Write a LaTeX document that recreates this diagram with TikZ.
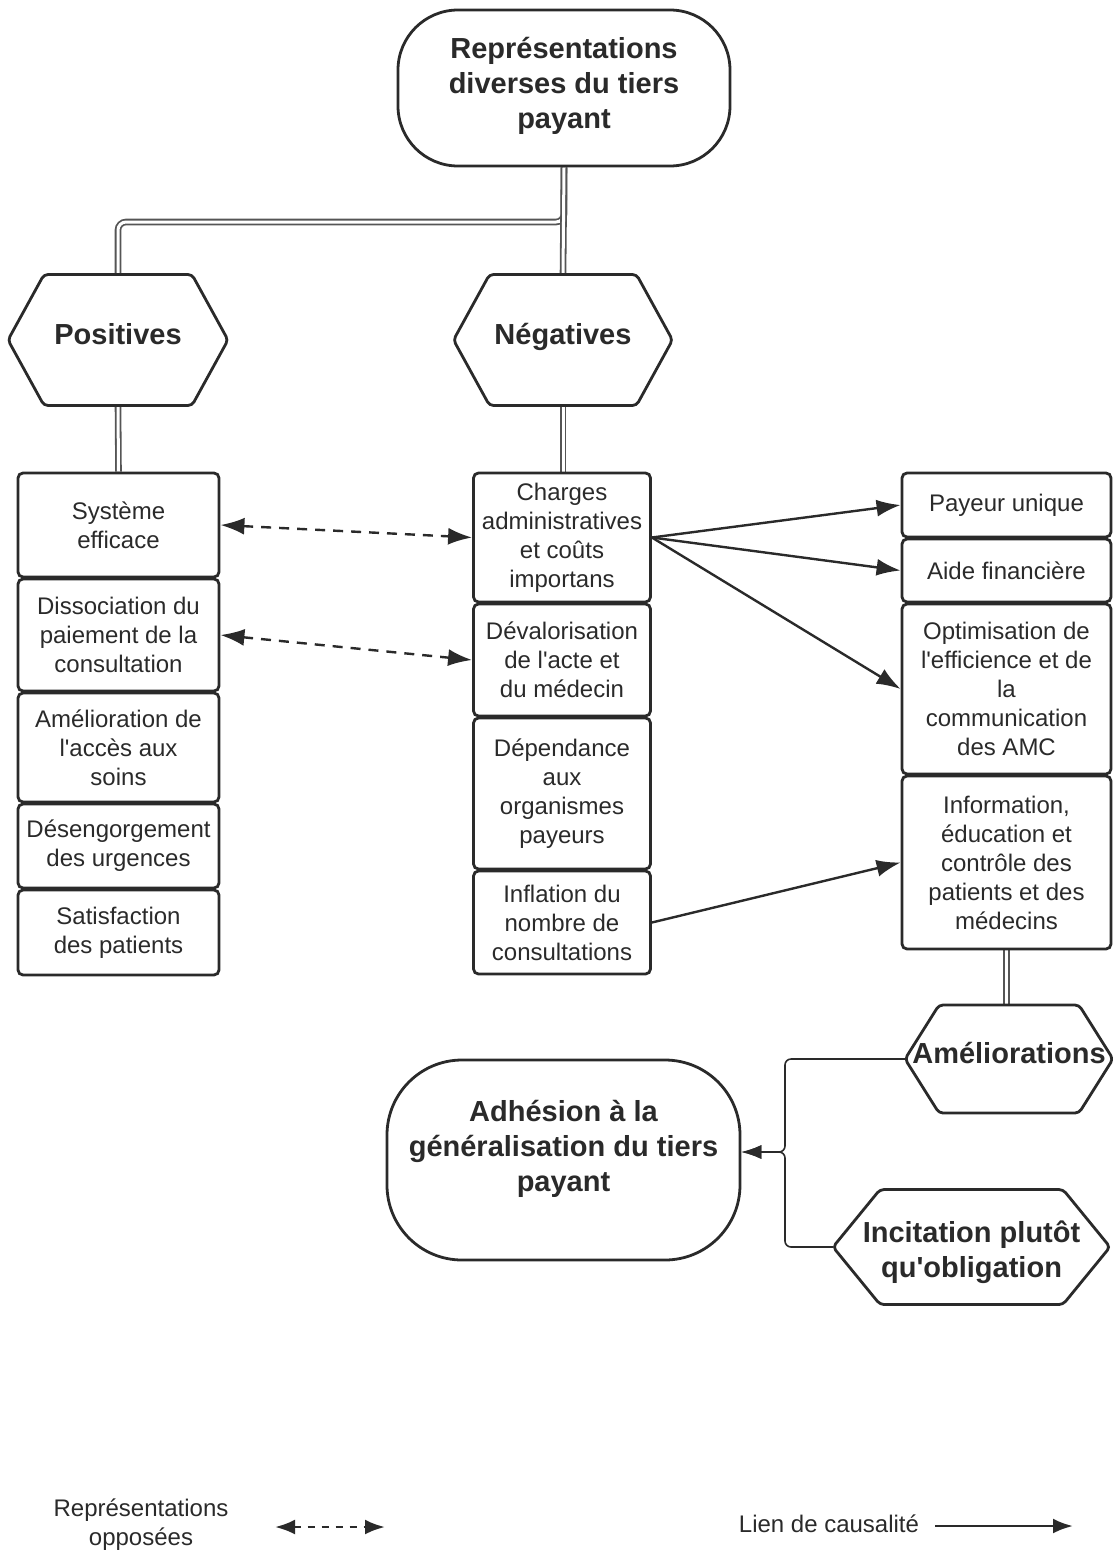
\documentclass[tikz,border=0pt]{standalone}
\usepackage{fontspec}
\setmainfont{Liberation Sans}[Ligatures=TeXOff]
\usetikzlibrary{arrows.meta}
\pgfdeclarelayer{bg}
\pgfsetlayers{bg,main}
\definecolor{encre}{HTML}{2A2A2A}
\tikzset{
    every node/.style={inner sep=2pt, text=encre},
    boite/.style={draw=encre, line width=2.8pt, rounded corners=5pt, align=center, font=\fontsize{24}{29}\selectfont},
    bulle/.style={draw=encre, line width=2.8pt, align=center, font=\fontsize{29}{35}\selectfont\bfseries},
    hexa/.style={draw=none, outer sep=0pt, align=center, font=\fontsize{29}{35}\selectfont\bfseries},
    contour/.style={draw=encre, line width=2.8pt, rounded corners=4pt},
    lien/.style={draw=encre!80, line width=1.8pt, double=white, double distance=3pt},
    causal/.style={draw=encre, line width=2.4pt, -{Latex[length=24pt, width=17pt]}},
    fleche/.style={draw=encre, line width=1.6pt, -{Latex[length=20pt, width=14pt]}},
    oppose/.style={draw=encre, line width=2.4pt, dash pattern=on 10pt off 8pt, {Latex[length=24pt, width=17pt]}-{Latex[length=24pt, width=17pt]}},
    legende/.style={align=center, font=\fontsize{24}{29}\selectfont}
}
\newcommand{\hexagone}[2]{%
    \draw[contour] (#1.west) -- ([xshift=#2pt]#1.north west) -- ([xshift=-#2pt]#1.north east)
        -- (#1.east) -- ([xshift=-#2pt]#1.south east) -- ([xshift=#2pt]#1.south west) -- cycle;}
\newcommand{\decale}[2]{\raisebox{#1}[\height][\depth]{\begin{tabular}{@{}c@{}}#2\end{tabular}}}

\begin{document}
\begin{tikzpicture}[x=1pt, y=-1pt]
    \useasboundingbox (0, 0) rectangle (1113, 1553);

    \node (haut) at (564, 88) [bulle, minimum width=332, minimum height=156, rounded corners=60pt] {\decale{2pt}{Représentations\\diverses du tiers\\payant}};

    \node (pos) at (118, 340) [hexa, minimum width=220, minimum height=131] {\decale{3pt}{Positives}};
    \node (neg) at (563, 340) [hexa, minimum width=219, minimum height=131] {\decale{3pt}{Négatives}};
    \hexagone{pos}{36}
    \hexagone{neg}{36}

    \node (sys) at (118.5, 525) [boite, minimum width=201, minimum height=104] {Système\\efficace};
    \node (dis) at (118.5, 635) [boite, minimum width=201, minimum height=112] {Dissociation du\\paiement de la\\consultation};
    \node (acc) at (118.5, 747.5) [boite, minimum width=201, minimum height=109] {Amélioration de\\l'accès aux\\soins};
    \node (urg) at (118.5, 846) [boite, minimum width=201, minimum height=84] {Désengorgement\\des urgences};
    \node (sat) at (118.5, 932.5) [boite, minimum width=201, minimum height=85] {Satisfaction\\des patients};

    \node (cha) at (562, 537.5) [boite, minimum width=177, minimum height=129] {Charges\\administratives\\et coûts\\importans};
    \node (dev) at (562, 660) [boite, minimum width=177, minimum height=112] {Dévalorisation\\de l'acte et\\du médecin};
    \node (dep) at (562, 793.5) [boite, minimum width=177, minimum height=151] {Dépendance\\aux\\organismes\\payeurs};
    \node (inf) at (562, 922.5) [boite, minimum width=177, minimum height=103] {Inflation du\\nombre de\\consultations};

    \node (pay) at (1006.5, 505) [boite, minimum width=209, minimum height=64] {Payeur unique};
    \node (aid) at (1006.5, 570.5) [boite, minimum width=209, minimum height=63] {Aide financière};
    \node (opt) at (1006.5, 689) [boite, minimum width=209, minimum height=170] {Optimisation de\\l'efficience et de\\la\\communication\\des AMC};
    \node (edu) at (1006.5, 862.5) [boite, minimum width=209, minimum height=173] {Information,\\éducation et\\contrôle des\\patients et des\\médecins};

    \node (ame) at (1009, 1059) [hexa, minimum width=208, minimum height=108] {\decale{3pt}{Améliorations}};
    \node (inc) at (971.5, 1247) [hexa, minimum width=277, minimum height=115] {\decale{-6pt}{Incitation plutôt\\qu'obligation}};
    \hexagone{ame}{34}
    \hexagone{inc}{47}

    \node (adh) at (563.5, 1160) [bulle, minimum width=353, minimum height=200, rounded corners=75pt] {\decale{11pt}{Adhésion à la\\généralisation du tiers\\payant}};

    \coordinate (fourche) at (564, 222);
    \coordinate (bus) at (785, 1152);

    \begin{pgfonlayer}{bg}
        \draw[lien, rounded corners=8pt] (haut.south) -- (fourche) -| (pos.north);
        \draw[lien] (haut.south) -- (neg.north);
        \draw[lien] (pos.south) -- (sys.north);
        \draw[lien] (neg.south) -- (neg.south |- cha.north);
        \draw[lien] (edu.south) -- (edu.south |- ame.north);

        \draw[oppose] (sys.east) -- (cha.west);
        \draw[oppose] (dis.east) -- (dev.west);

        \draw[causal] (cha.east) -- (pay.west);
        \draw[causal] (cha.east) -- (aid.west);
        \draw[causal] (cha.east) -- (opt.west);
        \draw[causal] (inf.east) -- (edu.west);

        \draw[fleche, rounded corners=6pt] (ame.west) -| (bus) -- (bus -| adh.east);
        \draw[fleche, rounded corners=6pt] (inc.west) -| (bus) -- (bus -| adh.east);
    \end{pgfonlayer}

    \node (leg1) at (141, 1525) [legende] {Représentations\\opposées};
    \coordinate (lo1) at (275, 1527);
    \coordinate (lo2) at (385, 1527);
    \draw[oppose, line width=2.8pt, {Latex[length=20pt, width=15pt]}-{Latex[length=20pt, width=15pt]}, dash pattern=on 7pt off 7pt] (lo1) -- (lo2);

    \node (leg2) at (829, 1524) [legende] {Lien de causalité};
    \coordinate (lc1) at (935, 1526);
    \coordinate (lc2) at (1073, 1526);
    \draw[causal, line width=2.8pt, -{Latex[length=20pt, width=15pt]}] (lc1) -- (lc2);
\end{tikzpicture}
\end{document}
